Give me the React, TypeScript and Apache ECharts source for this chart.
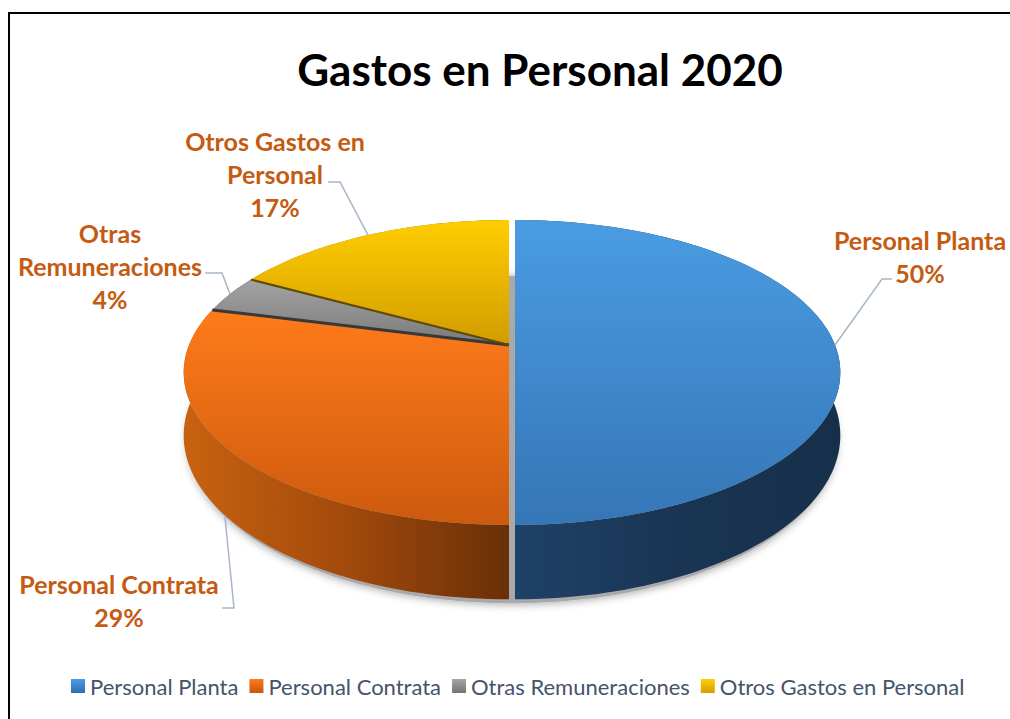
import React, { useEffect, useRef } from 'react';
import * as echarts from 'echarts';

// ---------- data ----------
const categories = ['Personal Planta', 'Personal Contrata', 'Otras Remuneraciones', 'Otros Gastos en Personal'];
const values = [50, 29, 4, 17];
const labelTexts = ['Personal Planta', 'Personal Contrata', 'Otras\nRemuneraciones', 'Otros Gastos en\nPersonal'];
const titleText = 'Gastos en Personal 2020';

// ---------- styles ----------
const topColors = [
  ['#4a9ce2', '#3576b6'],
  ['#ff7b1a', '#cc5a0e'],
  ['#a3a3a3', '#7a7a7a'],
  ['#ffcd00', '#d29c00'],
];
const wallColors = [
  ['#1f4168', '#1a3553', '#16304b'],
  ['#c8620f', '#a24a0c', '#6a2f08'],
  ['#6e6e6e', '#5a5a5a', '#4a4a4a'],
  ['#b08800', '#9a7600', '#7f6000'],
];
const legendColors = [
  ['#4c9de3', '#2f6eae'],
  ['#ff7b1a', '#c8560c'],
  ['#a6a6a6', '#737373'],
  ['#ffcf00', '#d69e00'],
];
const explode = [6, 0, 0, 0];

// ---------- label layout ----------
const labelPos = [[920, 256], [119, 600], [110, 266], [275, 174]];
const leaderStart = [[892, 279], [222, 608], [205, 273], [328, 182]];
const leaderElbow = [[882, 279], [234, 608], [222, 273], [340, 182]];
const anchorDepth = [0, 1, 0, 0];

// ---------- 3D projection ----------
const CX = 509, CY = 345, R = 320, RY = 147.5, K = 0.18, DEPTH = 61;
function proj(theta: number, dx: number, depthFrac: number, dy = 0): number[] {
  const u = Math.sin(theta);
  const v = -Math.cos(theta);
  const s = 1 / (1 - K * v);
  return [CX + dx + R * u * s, CY + dy + RY * v * s + DEPTH * s * depthFrac];
}

const total = values.reduce((a, b) => a + b, 0);
const starts: number[] = [];
{
  let acc = 0;
  values.forEach((v) => {
    starts.push((acc / total) * Math.PI * 2);
    acc += v;
  });
}

function lin(x2: number, y2: number, colors: string[]) {
  return {
    type: 'linear', x: 0, y: 0, x2, y2,
    colorStops: colors.map((c, i) => ({ offset: i / (colors.length - 1), color: c })),
  };
}

function makeRenderItem(i: number) {
  return () => {
    const a0 = starts[i];
    const a1 = a0 + (values[i] / total) * Math.PI * 2;
    const dx = explode[i];
    const n = Math.max(8, Math.ceil((a1 - a0) / (Math.PI / 120)));
    const topArc: number[][] = [];
    const botArc: number[][] = [];
    for (let j = 0; j <= n; j++) {
      const t = a0 + ((a1 - a0) * j) / n;
      topArc.push(proj(t, dx, 0));
      botArc.push(proj(t, dx, 1));
    }
    const children: any[] = [];
    if (i === 0) {
      // floor shadow under the whole pie
      const floor: number[][] = [];
      for (let j = 0; j <= 240; j++) floor.push(proj((j / 240) * Math.PI * 2, 3, 1, 4));
      children.push({
        type: 'polygon', z2: 0, silent: true,
        shape: { points: floor },
        style: { fill: '#a9a9a9', shadowBlur: 8, shadowColor: 'rgba(0,0,0,0.35)', shadowOffsetY: 1 },
      });
    }
    // outer wall
    children.push({
      type: 'polygon', z2: 10,
      shape: { points: topArc.concat(botArc.slice().reverse()) },
      style: { fill: lin(1, 0, wallColors[i]) },
    });
    // top face
    children.push({
      type: 'polygon', z2: 20,
      shape: { points: [[CX + dx, CY]].concat(topArc) },
      style: { fill: lin(0, 1, topColors[i]) },
    });
    if (i === 2) {
      children.push({
        type: 'polyline', z2: 25,
        shape: { points: [[CX + dx, CY], proj(a0, dx, 0)] },
        style: { stroke: '#383838', lineWidth: 3, fill: null },
      });
      children.push({
        type: 'polyline', z2: 25,
        shape: { points: [[CX + dx, CY], proj(a1, dx, 0)] },
        style: { stroke: '#5e4a08', lineWidth: 2, fill: null },
      });
    }
    // label + leader
    const mid = (a0 + a1) / 2;
    const anchor = proj(mid, dx, anchorDepth[i]);
    children.push({
      type: 'polyline', z2: 30, silent: true,
      shape: { points: [leaderStart[i], leaderElbow[i], anchor] },
      style: { stroke: '#a9b6c8', lineWidth: 1.5, fill: null },
    });
    const pct = Math.round((values[i] / total) * 100);
    children.push({
      type: 'text', z2: 30,
      style: {
        text: labelTexts[i] + '\n' + pct + '%',
        x: labelPos[i][0], y: labelPos[i][1],
        align: 'center', verticalAlign: 'middle',
        fill: '#c55a11', fontSize: 25, fontWeight: 'bold', fontFamily: 'Lato',
        lineHeight: 33,
      },
    });
    return { type: 'group', children };
  };
}

const option: any = {
  animation: false,
  backgroundColor: '#ffffff',
  title: {
    text: titleText,
    left: 535,
    top: 42,
    textAlign: 'center',
    textStyle: { fontSize: 44, fontWeight: 'bold', fontFamily: 'Lato', color: '#000000' },
  },
  legend: {
    data: categories,
    left: 66,
    top: 670,
    icon: 'rect',
    itemWidth: 14,
    itemHeight: 14,
    itemGap: 11,
    selectedMode: false,
    textStyle: { fontSize: 22, color: '#44546a', fontFamily: 'Lato' },
  },
  graphic: [
    {
      type: 'rect', silent: true,
      shape: { x: 9, y: 13, width: 1100, height: 800 },
      style: { fill: 'none', stroke: '#000000', lineWidth: 2 },
    },
  ],
  series: categories.map((name, i) => ({
    type: 'custom',
    name,
    coordinateSystem: 'none',
    data: [[values[i]]],
    itemStyle: { color: lin(0, 1, legendColors[i]) },
    renderItem: makeRenderItem(i),
  })),
};

export default function App() {
  const ref = useRef<HTMLDivElement>(null);
  useEffect(() => {
    const chart = echarts.init(ref.current!, null, { renderer: 'svg' });
    chart.setOption(option);
    return () => chart.dispose();
  }, []);
  return (
    <div
      ref={ref}
      style={{ position: 'absolute', left: 0, top: 0, width: 1010, height: 719, background: '#fff' }}
    />
  );
}
